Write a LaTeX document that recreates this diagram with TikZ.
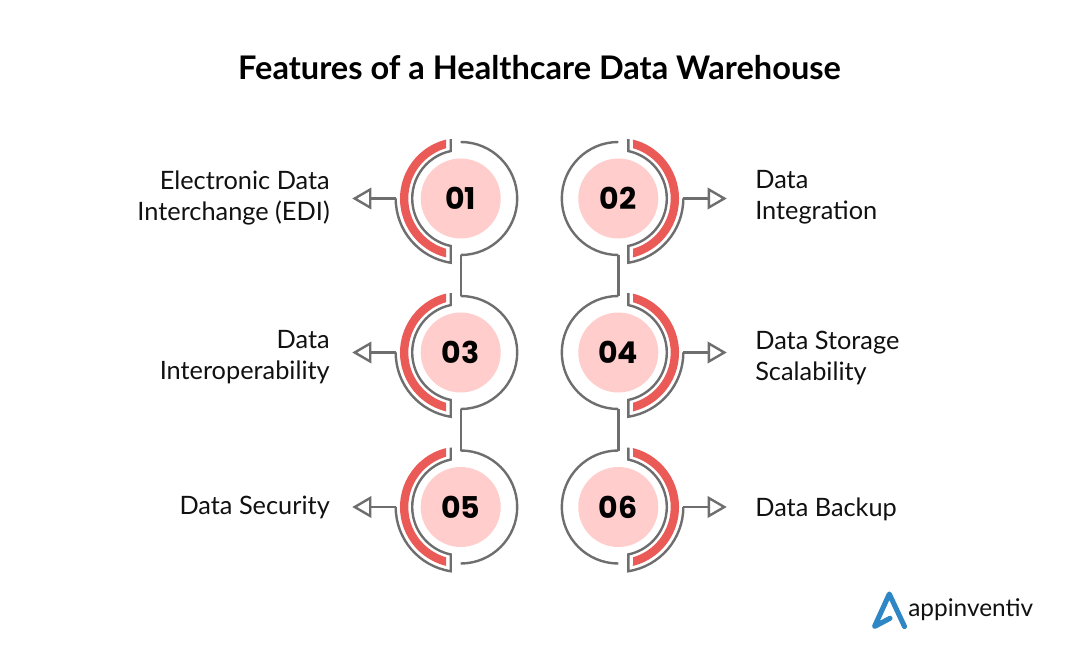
\documentclass[tikz,border=0pt]{standalone}
\usepackage{fontspec}
\setmainfont{Lato}
\newfontfamily\numfont{Poppins}
\definecolor{ringgray}{HTML}{6E6E6E}
\definecolor{ringred}{HTML}{EA5B58}
\definecolor{softpink}{HTML}{FFCDCB}
\definecolor{logoblue}{HTML}{2F86C5}
\definecolor{ink}{HTML}{111111}
\tikzset{
  ringline/.style={draw=ringgray,line width=1.8pt,line join=miter},
  redarc/.style={fill=ringred,draw=none},
  pinkdisc/.style={circle,fill=softpink,minimum size=60pt,inner sep=0pt},
  tiphead/.style={ringline,fill=white},
  labelleft/.style={align=right,anchor=east,inner sep=0pt,text=ink,font=\fontsize{19}{23.25}\selectfont},
  labelright/.style={align=left,anchor=west,inner sep=0pt,text=ink,font=\fontsize{19}{23.25}\selectfont},
}
\newcommand{\featureunit}[5]{%
  \begin{scope}[shift={(#2,#3)},xscale=#4]
    \path[redarc] (104:60.7) arc[start angle=104,end angle=256,radius=60.7]
      -- (253.7:52.4) arc[start angle=253.7,end angle=106.3,radius=52.4] -- cycle;
    \draw[ringline] (-10,59.5) -- (101.9:48.5) arc[start angle=101.9,end angle=258.1,radius=48.5]
      -- (261.15:65) arc[start angle=261.15,end angle=180,radius=65];
    \draw[ringline] (0,56.5) arc[start angle=90,end angle=-90,radius=56.5];
    \coordinate (#1top) at (0,56.5);
    \coordinate (#1bot) at (0,-56.5);
    \coordinate (#1out) at (-65,0);
    \coordinate (#1base) at (-90.5,0);
    \draw[tiphead] (-90.5,9) -- (-106,0) -- (-90.5,-9) -- cycle;
    \draw[ringline] (#1out) -- (#1base);
    \node[pinkdisc] (#1disc) at (0,0) {};
  \end{scope}
  \node[font=\numfont\bfseries\fontsize{22.5}{22.5}\selectfont,text=black] (#1num) at (#2,#3) {#5};
}
\begin{document}
\begin{tikzpicture}[x=0.75pt,y=0.75pt]
\path[use as bounding box,fill=white] (0,0) rectangle (1080,644);
\node[anchor=base,text=black,font=\bfseries\fontsize{24.4}{24.4}\selectfont] (title) at (539.5,564.5) {Features of a Healthcare Data Warehouse};
\featureunit{a}{460.7}{445.5}{1}{01}
\featureunit{b}{618.3}{445.5}{-1}{02}
\featureunit{c}{460.7}{291.5}{1}{03}
\featureunit{d}{618.3}{291.5}{-1}{04}
\featureunit{e}{460.7}{137}{1}{05}
\featureunit{f}{618.3}{137}{-1}{06}
\draw[ringline] (abot) -- (ctop);
\draw[ringline] (bbot) -- (dtop);
\draw[ringline] (cbot) -- (etop);
\draw[ringline] (dbot) -- (ftop);
\node[labelleft] (la) at (330,446.5) {Electronic Data\\Interchange (EDI)};
\node[labelright] (lb) at (755,446.5) {Data\\Integration};
\node[labelleft] (lc) at (330,286.5) {Data\\Interoperability};
\node[labelright] (ld) at (755,286.5) {Data Storage\\Scalability};
\node[labelleft] (le) at (330,137) {Data Security};
\node[labelright] (lf) at (755,135) {Data Backup};
\draw[draw=logoblue,line width=3.8pt,line cap=round,line join=round]
  (890,25.7) -- (874.5,17.5) -- (889.3,50) -- (904.5,17.5);
\node[anchor=base west,inner sep=0pt,text=ink,font=\fontsize{18.3}{18.3}\selectfont] (logo) at (908,27.3) {appinventiv};
\end{tikzpicture}
\end{document}
